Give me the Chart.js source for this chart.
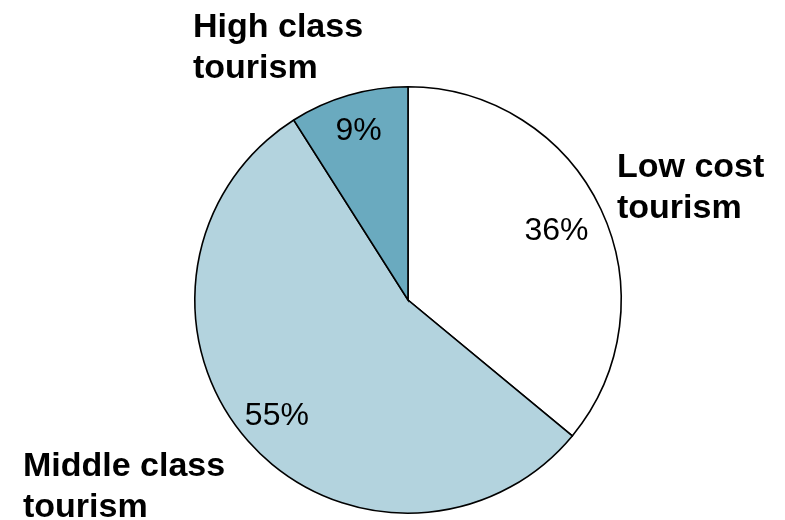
<!DOCTYPE html>
<html>
<head>
<meta charset="utf-8">
<script src="https://cdn.jsdelivr.net/npm/chart.js@4"></script>
<style>
  html, body { margin: 0; padding: 0; background: #ffffff; }
  #wrap { width: 785px; height: 520px; position: relative; }
</style>
</head>
<body>
<div id="wrap"><canvas id="pie" width="785" height="520"></canvas></div>
<script>
// Market shares by tourism segment
const categories = ['Low cost tourism', 'Middle class tourism', 'High class tourism'];
const shares = [36, 55, 9];
const percentLabels = ['36%', '55%', '9%'];
const nameLines = [['Low cost', 'tourism'], ['Middle class', 'tourism'], ['High class', 'tourism']];

const sliceColors = ['#ffffff', '#b3d3de', '#6aaabf'];
// where each name block starts (left x, first baseline y)
const nameAnchors = [[617, 177], [23, 476], [193, 37]];
// how far out along each slice's middle the percent sits, as a share of the radius
const percentRadius = [0.77, 0.82, 0.83];

const FONT = '"Liberation Sans", Arial, sans-serif';

const labelPlugin = {
  id: 'sliceLabels',
  afterDatasetsDraw(chart) {
    const ctx = chart.ctx;
    const meta = chart.getDatasetMeta(0);
    ctx.save();
    ctx.fillStyle = '#000000';
    // percentages inside the slices
    ctx.font = '32px ' + FONT;
    ctx.textAlign = 'center';
    ctx.textBaseline = 'middle';
    meta.data.forEach((arc, i) => {
      const p = arc.getProps(['x', 'y', 'startAngle', 'endAngle', 'outerRadius'], true);
      const mid = (p.startAngle + p.endAngle) / 2;
      const r = p.outerRadius * percentRadius[i];
      ctx.fillText(percentLabels[i], p.x + Math.cos(mid) * r, p.y + Math.sin(mid) * r + 1);
    });
    // segment names outside the pie
    ctx.font = 'bold 34px ' + FONT;
    ctx.textAlign = 'left';
    ctx.textBaseline = 'alphabetic';
    nameLines.forEach((lines, i) => {
      const [x, y] = nameAnchors[i];
      lines.forEach((line, j) => ctx.fillText(line, x, y + j * 41));
    });
    ctx.restore();
  }
};

new Chart(document.getElementById('pie'), {
  type: 'pie',
  data: {
    labels: categories,
    datasets: [{
      data: shares,
      backgroundColor: sliceColors,
      borderColor: '#000000',
      borderWidth: 1.6,
      borderJoinStyle: 'miter'
    }]
  },
  options: {
    responsive: false,
    animation: false,
    events: [],
    layout: { padding: { top: 86, bottom: 6, left: 31, right: 0 } },
    plugins: {
      legend: { display: false },
      tooltip: { enabled: false }
    }
  },
  plugins: [labelPlugin]
});
</script>
</body>
</html>
